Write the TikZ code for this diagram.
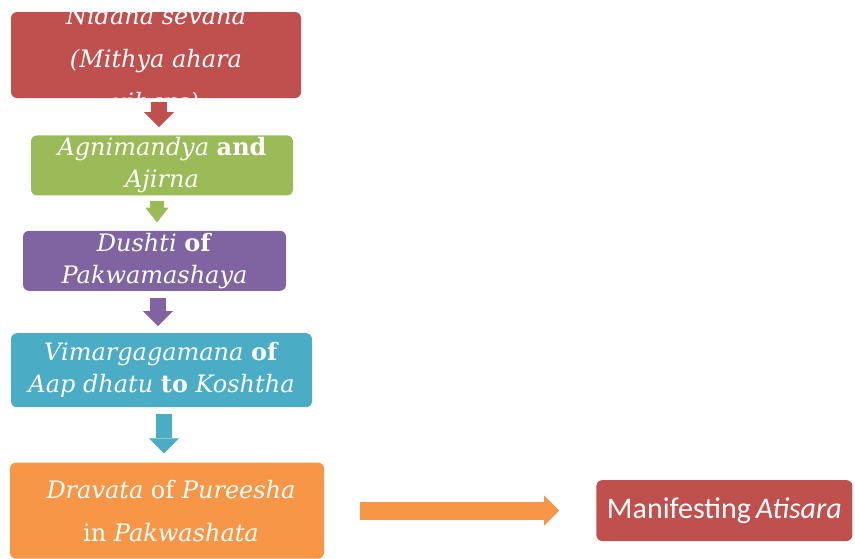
\documentclass[tikz,border=0pt]{standalone}
\usepackage{fontspec}
\setmainfont{DejaVu Serif}
\newfontfamily\calibrifont{Carlito}
\usetikzlibrary{arrows.meta, positioning}

\definecolor{boxred}{HTML}{C0504D}
\definecolor{boxgreen}{HTML}{9BBB59}
\definecolor{boxpurple}{HTML}{8064A2}
\definecolor{boxteal}{HTML}{4BACC6}
\definecolor{boxorange}{HTML}{F79646}

\begin{document}
\begin{tikzpicture}[
                x = 1pt, y = -1pt, % y runs downwards
                blockarrow/.style = {line width = 16pt,
                    -{Triangle[length = 15pt, width = 30pt, line width = 0pt]}}, % fat arrow
                widetext/.style = {font = \fontsize{24}{43}\selectfont} % three-line boxes
            ]

            \tikzstyle{every node}=[rectangle, rounded corners = 6pt, inner sep = 0pt,
            text = white, align = center, font = \fontsize{24}{32}\selectfont]

            \useasboundingbox (0,0) rectangle (855,558);

            % text sits in a label so it can not stretch the box
            \node (1) [fill = boxred, minimum width = 290pt, minimum height = 86pt,
                label = {[widetext, yshift = -5pt]center:\textit{Nidana sevana}\\
                    \textit{(Mithya ahara}\\ \textit{vihara)}}] at (156,55) {};
            \node (2) [fill = boxgreen, minimum width = 262pt, minimum height = 60pt,
                below = 37pt of 1, xshift = 6pt]
                {\textit{Agnimandya} \textbf{and}\\ \textit{Ajirna}};
            \node (3) [fill = boxpurple, minimum width = 263pt, minimum height = 60pt,
                below = 35pt of 2, xshift = -7.5pt]
                {\textit{Dushti} \textbf{of}\\ \textit{Pakwamashaya}};
            \node (4) [fill = boxteal, minimum width = 301pt, minimum height = 74pt,
                below = 42pt of 3, xshift = 7pt]
                {\textit{Vimargagamana} \textbf{of}\\ \textit{Aap dhatu} \textbf{to} \textit{Koshtha}};
            \node (5) [fill = boxorange, minimum width = 314pt, minimum height = 96pt,
                below = 55pt of 4, xshift = 5.5pt,
                label = {[widetext, xshift = 4pt]center:\textit{Dravata} of \textit{Pureesha}\\
                    in \textit{Pakwashata}}] {};
            \node (6) [fill = boxred, minimum width = 256pt, minimum height = 61pt,
                font = \calibrifont\fontsize{30}{36}\selectfont, right = 272pt of 5]
                {Manifesting\hspace{-2pt} \textit{Atisara}};

            \draw[blockarrow, boxred, shorten < = 4pt, shorten > = 8pt]
                ([xshift = 3pt]1.south) -- ([xshift = 3pt]1.south |- 2.north);
            \draw[blockarrow, boxgreen, line width = 14pt, shorten < = 5pt, shorten > = 8pt,
                -{Triangle[length = 15pt, width = 23pt, line width = 0pt]}]
                ([xshift = -5pt]2.south) -- ([xshift = -5pt]2.south |- 3.north);
            \draw[blockarrow, boxpurple, shorten < = 7pt, shorten > = 7pt]
                ([xshift = 3.5pt]3.south) -- ([xshift = 3.5pt]3.south |- 4.north);
            \draw[blockarrow, boxteal, shorten < = 7pt, shorten > = 9pt]
                ([xshift = 2.5pt]4.south) -- ([xshift = 2.5pt]4.south |- 5.north);
            \draw[blockarrow, boxorange, line width = 18pt, shorten < = 36pt, shorten > = 37pt]
                (5) -- (6);

        \end{tikzpicture}
\end{document}
